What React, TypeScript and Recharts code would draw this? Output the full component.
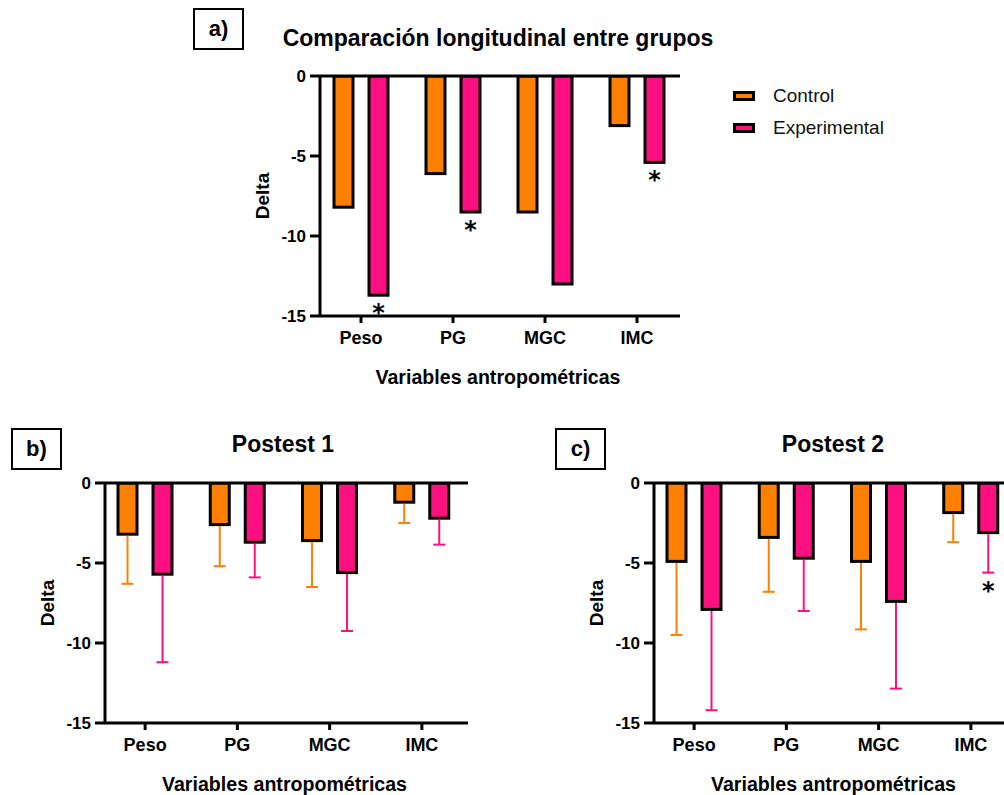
import React from "react";
import { Bar, BarChart, ReferenceLine, XAxis, YAxis } from "recharts";

const categories = ["Peso", "PG", "MGC", "IMC"];
const yTicks = [0, -5, -10, -15];
const seriesNames = ["Control", "Experimental"];
const seriesColors = ["#FF8000", "#FF1080"];

// a) comparación longitudinal
const longControl = [-8.2, -6.1, -8.5, -3.1];
const longExperimental = [-13.7, -8.5, -13.0, -5.4];
const longSignificant = [true, true, false, true];

// b) Postest 1 (media, DE hacia abajo)
const post1Control = [-3.2, -2.6, -3.6, -1.2];
const post1ControlSd = [3.1, 2.6, 2.9, 1.3];
const post1Experimental = [-5.7, -3.7, -5.6, -2.2];
const post1ExperimentalSd = [5.5, 2.2, 3.65, 1.65];
const post1Significant = [false, false, false, false];

// c) Postest 2
const post2Control = [-4.9, -3.4, -4.9, -1.85];
const post2ControlSd = [4.6, 3.4, 4.25, 1.85];
const post2Experimental = [-7.9, -4.7, -7.4, -3.1];
const post2ExperimentalSd = [6.3, 3.3, 5.45, 2.5];
const post2Significant = [false, false, false, true];

const FONT = '"Liberation Sans", Arial, sans-serif';

function buildRows(
	control: number[],
	experimental: number[],
	sig: boolean[],
	controlSd?: number[],
	experimentalSd?: number[],
) {
	return categories.map((name, i) => ({
		name,
		control: control[i],
		experimental: experimental[i],
		controlSd: controlSd ? controlSd[i] : 0,
		experimentalSd: experimentalSd ? experimentalSd[i] : 0,
		sig: sig[i],
	}));
}

const longRows = buildRows(longControl, longExperimental, longSignificant);
const post1Rows = buildRows(post1Control, post1Experimental, post1Significant, post1ControlSd, post1ExperimentalSd);
const post2Rows = buildRows(post2Control, post2Experimental, post2Significant, post2ControlSd, post2ExperimentalSd);

// bar with thick black outline, one-sided SD whisker and optional asterisk
function barShape(valueKey: string, sdKey: string, color: string, markSig: boolean) {
	return (props: any) => {
		const { x, y, width, height, payload } = props;
		const v = payload[valueKey];
		const top = Math.min(y, y + height);
		const bottom = Math.max(y, y + height);
		const ppu = v ? (bottom - top) / Math.abs(v) : 0;
		const sd = payload[sdKey] || 0;
		const errEnd = bottom + sd * ppu;
		const cx = x + width / 2;
		return (
			<g>
				<rect x={x} y={top} width={width} height={bottom - top} fill={color} stroke="#000" strokeWidth={3} />
				{sd ? (
					<g stroke={color} strokeWidth={2}>
						<line x1={cx} x2={cx} y1={bottom + 1.5} y2={errEnd} />
						<line x1={cx - 6} x2={cx + 6} y1={errEnd} y2={errEnd} />
					</g>
				) : null}
				{markSig && payload.sig ? (
					<text
						x={cx}
						y={errEnd + 26}
						textAnchor="middle"
						fontSize={24}
						fontWeight={700}
						fontFamily='"DejaVu Sans", sans-serif'
						fill="#000"
					>
						*
					</text>
				) : null}
			</g>
		);
	};
}

function DeltaTitle({ viewBox }: any) {
	const cx = viewBox.x + viewBox.width - 58;
	const cy = viewBox.y + viewBox.height / 2;
	return (
		<text
			x={cx}
			y={cy}
			transform={`rotate(-90 ${cx} ${cy})`}
			textAnchor="middle"
			dominantBaseline="central"
			fontSize={19}
			fontWeight={700}
			fontFamily={FONT}
			fill="#000"
		>
			Delta
		</text>
	);
}

function VarTitle({ viewBox }: any) {
	const cx = viewBox.x + viewBox.width / 2 - 2;
	const cy = viewBox.y + 61;
	return (
		<text x={cx} y={cy} textAnchor="middle" dominantBaseline="central" fontSize={19.6} fontWeight={700} fontFamily={FONT} fill="#000">
			Variables antropométricas
		</text>
	);
}

interface PanelProps {
	rows: any[];
	left: number;
	top: number;
	width: number;
	height: number;
	margin: { top: number; right: number; bottom: number; left: number };
	padLeft: number;
	padRight: number;
}

function Panel({ rows, left, top, width, height, margin, padLeft, padRight }: PanelProps) {
	const tickStyle = { fill: "#000", fontSize: 18, fontWeight: 700, fontFamily: FONT };
	return (
		<div style={{ position: "absolute", left, top }}>
			<BarChart width={width} height={height} data={rows} margin={margin} barSize={19} barGap={16}>
				<XAxis
					dataKey="name"
					height={65}
					padding={{ left: padLeft, right: padRight }}
					axisLine={{ stroke: "#000", strokeWidth: 3 }}
					tickLine={{ stroke: "#000", strokeWidth: 3 }}
					tickSize={7}
					tickMargin={8}
					tick={tickStyle}
					interval={0}
					label={<VarTitle />}
				/>
				<YAxis
					domain={[-15, 0]}
					ticks={yTicks}
					width={40}
					allowDataOverflow
					axisLine={{ stroke: "#000", strokeWidth: 3 }}
					tickLine={{ stroke: "#000", strokeWidth: 3 }}
					tickSize={10}
					tickMargin={4}
					tick={{ ...tickStyle, fontSize: 17 }}
					label={<DeltaTitle />}
				/>
				<ReferenceLine y={0} stroke="#000" strokeWidth={3} />
				<Bar
					dataKey="control"
					name={seriesNames[0]}
					fill={seriesColors[0]}
					isAnimationActive={false}
					shape={barShape("control", "controlSd", seriesColors[0], false)}
				/>
				<Bar
					dataKey="experimental"
					name={seriesNames[1]}
					fill={seriesColors[1]}
					isAnimationActive={false}
					shape={barShape("experimental", "experimentalSd", seriesColors[1], true)}
				/>
			</BarChart>
		</div>
	);
}

function PanelTag({ text, left, top }: { text: string; left: number; top: number }) {
	return (
		<div
			style={{
				position: "absolute",
				left,
				top,
				width: 51,
				height: 42,
				border: "2.5px solid #000",
				boxSizing: "border-box",
				display: "flex",
				alignItems: "center",
				justifyContent: "center",
				fontSize: 22,
				fontWeight: 700,
			}}
		>
			{text}
		</div>
	);
}

function Title({ text, cx, cy }: { text: string; cx: number; cy: number }) {
	return (
		<div
			style={{
				position: "absolute",
				left: cx - 300,
				top: cy - 13,
				width: 600,
				lineHeight: "26px",
				textAlign: "center",
				fontSize: 23,
				fontWeight: 700,
			}}
		>
			{text}
		</div>
	);
}

function Legend() {
	return (
		<div style={{ position: "absolute", left: 733, top: 80 }}>
			{seriesNames.map((name, i) => (
				<div key={name} style={{ display: "flex", alignItems: "center", height: 32 }}>
					<span
						style={{
							width: 22,
							height: 10,
							border: "3px solid #000",
							boxSizing: "border-box",
							background: seriesColors[i],
							marginRight: 18,
						}}
					/>
					<span style={{ fontSize: 19, color: "#111" }}>{name}</span>
				</div>
			))}
		</div>
	);
}

export default function App() {
	return (
		<div
			style={{
				position: "absolute",
				left: 0,
				top: 0,
				width: 1004,
				height: 795,
				overflow: "hidden",
				background: "#fff",
				fontFamily: FONT,
				color: "#000",
			}}
		>
			<PanelTag text="a)" left={193} top={8} />
			<Title text="Comparación longitudinal entre grupos" cx={498} cy={38} />
			<Panel
				rows={longRows}
				left={220}
				top={60}
				width={470}
				height={335}
				margin={{ top: 16, right: 10, bottom: 14, left: 60 }}
				padLeft={-5}
				padRight={-3}
			/>
			<Legend />

			<PanelTag text="b)" left={11} top={428} />
			<Title text="Postest 1" cx={283} cy={444} />
			<Panel
				rows={post1Rows}
				left={0}
				top={470}
				width={478}
				height={325}
				margin={{ top: 13, right: 10, bottom: 7, left: 65 }}
				padLeft={-6}
				padRight={0}
			/>

			<PanelTag text="c)" left={555} top={428} />
			<Title text="Postest 2" cx={833} cy={444} />
			<Panel
				rows={post2Rows}
				left={560}
				top={470}
				width={462}
				height={325}
				margin={{ top: 13, right: 5, bottom: 7, left: 54 }}
				padLeft={-6}
				padRight={0}
			/>
		</div>
	);
}
